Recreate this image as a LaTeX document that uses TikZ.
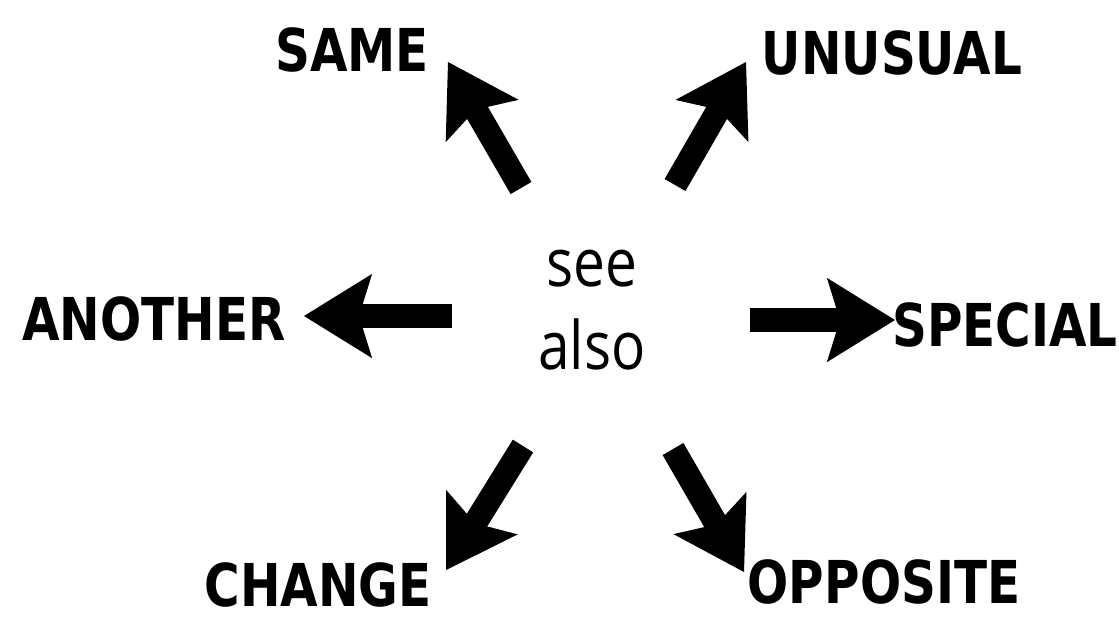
\documentclass[tikz,border=0pt]{standalone}
\usepackage{fontspec}
\usepackage{tikz}
\usetikzlibrary{arrows.meta}
\newfontfamily\wordfont[FakeStretch=0.82]{DejaVu Sans}
\newfontfamily\hubfont[FakeStretch=0.85]{Open Sans}
\definecolor{InkBlack}{HTML}{000000}

\tikzset{
  wordlabel/.style={InkBlack,inner sep=0pt,font={\wordfont\bfseries\fontsize{16.8}{20}\selectfont}},
  hublabel/.style={InkBlack,inner sep=0pt,align=center,font={\hubfont\fontsize{19}{23.5}\selectfont}},
  seearrow/.style={InkBlack,line width=0.24cm,
    -{Stealth[length=0.68cm,width=0.84cm,inset=0.13cm,line width=0.5pt]}}
}

\begin{document}
\begin{tikzpicture}[x=0.01cm,y=-0.01cm]
  \useasboundingbox (0,0) rectangle (1119,617);
  \node[hublabel] (hub) at (592,310) {see\\also};
  \node[wordlabel] (same) at (352,50) {SAME};
  \node[wordlabel] (unusual) at (892,53) {UNUSUAL};
  \node[wordlabel] (another) at (154,319) {ANOTHER};
  \node[wordlabel] (special) at (1005,325) {SPECIAL};
  \node[wordlabel] (change) at (318,585) {CHANGE};
  \node[wordlabel] (opposite) at (884,582) {OPPOSITE};
  % arrow ends
  \coordinate (sameTail) at (521,188);
  \coordinate (sameTip) at (448,62);
  \coordinate (unusualTail) at (675,185);
  \coordinate (unusualTip) at (746,62);
  \coordinate (anotherTail) at (452,316);
  \coordinate (anotherTip) at (304,316);
  \coordinate (specialTail) at (750,320);
  \coordinate (specialTip) at (895,320);
  \coordinate (changeTail) at (523,446);
  \coordinate (changeTip) at (446,570);
  \coordinate (oppositeTail) at (673,449);
  \coordinate (oppositeTip) at (744,572);
  \draw[seearrow] (sameTail) -- (sameTip);
  \draw[seearrow] (unusualTail) -- (unusualTip);
  \draw[seearrow] (anotherTail) -- (anotherTip);
  \draw[seearrow] (specialTail) -- (specialTip);
  \draw[seearrow] (changeTail) -- (changeTip);
  \draw[seearrow] (oppositeTail) -- (oppositeTip);
\end{tikzpicture}
\end{document}
